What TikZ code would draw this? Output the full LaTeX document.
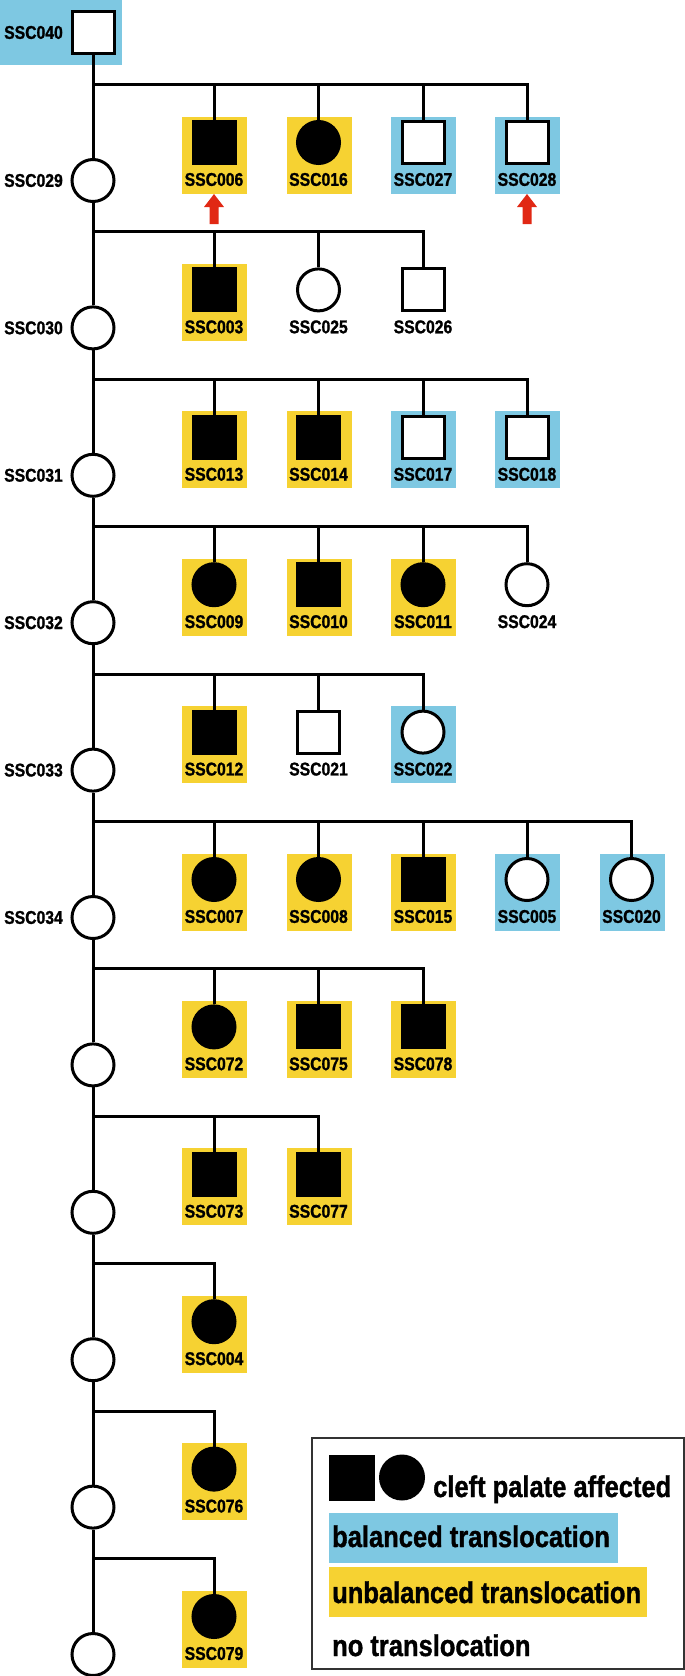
\documentclass[tikz,border=0pt]{standalone}
\usepackage{fontspec}
\newfontfamily\labf{Liberation Sans}[FakeStretch=0.85, FakeBold=1.2]
\definecolor{yel}{RGB}{246,210,50}
\definecolor{blu}{RGB}{126,200,226}
\definecolor{arr}{RGB}{225,40,20}
\newcommand\kid[5]{%
  \pgfmathsetmacro\yl{84.5+147.4*#2}%
  \path[#5] ({#1-32},{\yl+32}) rectangle ({#1+33},{\yl+109});
  \node[#4] (s#3) at (#1,{\yl+58}) {};
  \node[lab] (t#3) at (#1,{\yl+95}) {SSC#3};
}
\newcommand\uparr[1]{%
  \fill[arr] (#1,194) -- ({#1+10},207) -- ({#1+4.5},207) -- ({#1+4.5},224) -- ({#1-4.5},224) -- ({#1-4.5},207) -- ({#1-10},207) -- cycle;
}
\begin{document}
\begin{tikzpicture}[x=1pt,y=-1pt,
  sym/.style={draw, line width=3pt, minimum size=42pt, inner sep=0pt},
  sqa/.style={sym, rectangle, fill=black},
  sqw/.style={sym, rectangle, fill=white},
  cia/.style={sym, circle, fill=black},
  ciw/.style={sym, circle, fill=white},
  lab/.style={font=\labf\bfseries\fontsize{18.5}{18.5}\selectfont, inner sep=0pt},
  leg/.style={font=\labf\bfseries\fontsize{30}{30}\selectfont, inner sep=0pt, anchor=base west},
  ln/.style={line width=3pt},
  bgy/.style={fill=yel},
  bgb/.style={fill=blu},
  bgn/.style={}]
\useasboundingbox (0,0) rectangle (685,1676);
% root
\fill[blu] (0,0) rectangle (122,65);
\node[sqw] (f040) at (93,32.5) {};
\node[lab, anchor=east] (t040) at (63,32.5) {SSC040};
% mothers
\foreach \g in {0,...,10}{
  \node[ciw] (m\g) at (93,{84.5+147.4*\g+96}) {};
  \coordinate (j\g) at (93,{84.5+147.4*\g});
}
\node[lab, anchor=east] (t029) at (63,180.5) {SSC029};
\node[lab, anchor=east] (t030) at (63,327.9) {SSC030};
\node[lab, anchor=east] (t031) at (63,475.3) {SSC031};
\node[lab, anchor=east] (t032) at (63,622.7) {SSC032};
\node[lab, anchor=east] (t033) at (63,770.1) {SSC033};
\node[lab, anchor=east] (t034) at (63,917.5) {SSC034};
% children
\kid{214}{0}{006}{sqa}{bgy}
\kid{318.5}{0}{016}{cia}{bgy}
\kid{423}{0}{027}{sqw}{bgb}
\kid{527}{0}{028}{sqw}{bgb}
\kid{214}{1}{003}{sqa}{bgy}
\kid{318.5}{1}{025}{ciw}{bgn}
\kid{423}{1}{026}{sqw}{bgn}
\kid{214}{2}{013}{sqa}{bgy}
\kid{318.5}{2}{014}{sqa}{bgy}
\kid{423}{2}{017}{sqw}{bgb}
\kid{527}{2}{018}{sqw}{bgb}
\kid{214}{3}{009}{cia}{bgy}
\kid{318.5}{3}{010}{sqa}{bgy}
\kid{423}{3}{011}{cia}{bgy}
\kid{527}{3}{024}{ciw}{bgn}
\kid{214}{4}{012}{sqa}{bgy}
\kid{318.5}{4}{021}{sqw}{bgn}
\kid{423}{4}{022}{ciw}{bgb}
\kid{214}{5}{007}{cia}{bgy}
\kid{318.5}{5}{008}{cia}{bgy}
\kid{423}{5}{015}{sqa}{bgy}
\kid{527}{5}{005}{ciw}{bgb}
\kid{631.5}{5}{020}{ciw}{bgb}
\kid{214}{6}{072}{cia}{bgy}
\kid{318.5}{6}{075}{sqa}{bgy}
\kid{423}{6}{078}{sqa}{bgy}
\kid{214}{7}{073}{sqa}{bgy}
\kid{318.5}{7}{077}{sqa}{bgy}
\kid{214}{8}{004}{cia}{bgy}
\kid{214}{9}{076}{cia}{bgy}
\kid{214}{10}{079}{cia}{bgy}
% red arrows
\uparr{214}
\uparr{527}
% main line
\draw[ln] (f040.south) -- (m0.north);
\foreach \a/\b in {0/1,1/2,2/3,3/4,4/5,5/6,6/7,7/8,8/9,9/10}{
  \draw[ln] (m\a.south) -- (m\b.north);
}
% sibships
\foreach \s in {006,016,027,028}{\draw[ln] (j0) -| (s\s.north);}
\foreach \s in {003,025,026}{\draw[ln] (j1) -| (s\s.north);}
\foreach \s in {013,014,017,018}{\draw[ln] (j2) -| (s\s.north);}
\foreach \s in {009,010,011,024}{\draw[ln] (j3) -| (s\s.north);}
\foreach \s in {012,021,022}{\draw[ln] (j4) -| (s\s.north);}
\foreach \s in {007,008,015,005,020}{\draw[ln] (j5) -| (s\s.north);}
\foreach \s in {072,075,078}{\draw[ln] (j6) -| (s\s.north);}
\foreach \s in {073,077}{\draw[ln] (j7) -| (s\s.north);}
\draw[ln] (j8) -| (s004.north);
\draw[ln] (j9) -| (s076.north);
\draw[ln] (j10) -| (s079.north);
% legend
\draw[line width=1.5pt, black!80] (312,1438) rectangle (684,1669);
\node[fill=black, minimum size=46pt, inner sep=0pt] (legsq) at (352,1477.5) {};
\node[fill=black, circle, minimum size=46pt, inner sep=0pt] (legci) at (402,1477.5) {};
\node[leg] (legaff) at (433,1497) {cleft palate affected};
\fill[blu] (329,1513) rectangle (618,1563);
\node[leg] (legbal) at (332,1547) {balanced translocation};
\fill[yel] (329,1567) rectangle (647,1617);
\node[leg] (legunb) at (332,1603) {unbalanced translocation};
\node[leg] (legno) at (332,1656) {no translocation};
\end{tikzpicture}
\end{document}
